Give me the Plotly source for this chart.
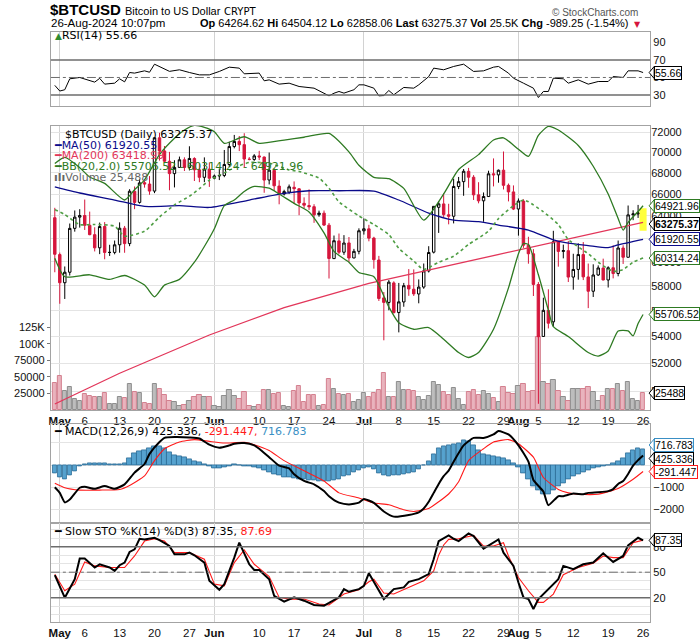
import math
import pandas as pd
import plotly.graph_objects as go

W, H = 700, 639

dates = pd.date_range("2024-04-30", "2024-08-26", freq="D")

# daily candles, one line per month (Apr 30, May, Jun, Jul, Aug 1-26)
opens = [63839,
         60610, 58253, 59122, 62891, 63892, 64038, 63162, 62333, 61191, 63055, 60793, 60794, 61452, 62907, 61554, 66256, 65231, 67067, 66937, 66278, 71443, 70135, 69121, 67928, 68526, 69264, 68512, 69392, 68296, 67577, 68362,
         67489, 67706, 67753, 68805, 70569, 71083, 70759, 69324, 69298, 69644, 69535, 67321, 68243, 66747, 66006, 66189, 66636, 66490, 65147, 64944, 64839, 64112, 64249, 63173, 60266, 61789, 60811, 61612, 60320, 60888,
         62673, 62845, 62034, 60147, 57023, 56659, 58240, 55857, 56699, 58034, 57725, 57340, 57900, 59226, 60815, 64785, 65092, 64104, 63972, 66708, 67165, 68152, 67585, 65927, 65376, 65771, 67911, 67808, 68259, 66819, 66201,
         64625, 65353, 61415, 60677, 58111, 54010, 56030, 55131, 61728, 60882, 60943, 58720, 59356, 60611, 58733, 57560, 58893, 59468, 58481, 59494, 59015, 61169, 60380, 64104, 64176, 64264.62]
highs = [64735,
         60780, 59603, 63320, 64494, 64610, 65494, 64390, 62986, 63404, 63446, 61451, 61818, 63422, 63102, 66454, 66712, 67397, 67400, 67694, 71483, 71946, 70623, 70041, 69220, 69579, 69506, 70597, 69514, 68866, 69500, 69000,
         67839, 68410, 70230, 71047, 71735, 71625, 71907, 69533, 69818, 70146, 69582, 69977, 68449, 67294, 66402, 66894, 67188, 66556, 65695, 66438, 65067, 64476, 64491, 63369, 62258, 62434, 62293, 62126, 61097, 62892,
         63777, 63203, 62148, 60499, 57497, 58473, 58371, 58237, 58239, 59385, 59359, 58526, 59850, 61329, 64900, 65354, 66067, 65104, 67442, 67612, 68372, 68480, 67787, 67112, 66151, 68207, 69400, 68319, 70079, 66987, 66810,
         65593, 65523, 62149, 61077, 58306, 57040, 57717, 62673, 61753, 61464, 61786, 60680, 61572, 61688, 59848, 59785, 59694, 60263, 59618, 61396, 61820, 61408, 64947, 64513, 65000, 64504.12]
lows = [59120,
        56553, 56937, 58848, 62599, 62955, 62746, 62285, 60877, 60648, 60209, 60493, 60632, 60769, 60763, 61330, 64613, 65120, 66600, 65937, 66086, 69191, 68977, 66357, 66622, 68515, 68183, 68233, 67227, 67114, 67119, 66671,
        67387, 67315, 67589, 68564, 70390, 70119, 68507, 69210, 69160, 69232, 66123, 66903, 66309, 65056, 65871, 66018, 65094, 64067, 64693, 64547, 63379, 63929, 63100, 58601, 60239, 60657, 60585, 59985, 60300, 60632,
        62341, 61752, 59419, 56777, 53717, 56038, 55793, 54321, 56317, 57190, 57178, 56590, 57757, 59100, 60705, 62487, 63896, 63246, 63330, 66460, 65842, 66591, 65454, 65146, 63474, 65743, 66718, 67066, 66428, 65323, 64532,
        62248, 61184, 59836, 57175, 49121, 53983, 54621, 54766, 59587, 60287, 58311, 57688, 58506, 58472, 56206, 57097, 58815, 58446, 57864, 58611, 58783, 59815, 60373, 63619, 63822, 62858.06]
closes = [60636,
          58254, 59123, 62889, 63892, 64031, 63162, 62334, 61188, 63049, 60793, 60794, 61448, 62901, 61553, 66267, 65232, 67051, 66940, 66278, 71448, 70136, 69122, 67929, 68526, 69265, 68518, 69394, 68296, 67578, 68364, 67491,
          67706, 67751, 68804, 70567, 71082, 70757, 69342, 69305, 69648, 69540, 67314, 68263, 66773, 66044, 66229, 66677, 66505, 65175, 64974, 64828, 64096, 64253, 63180, 60277, 61804, 60812, 61604, 60320, 60887, 62678,
          62851, 62029, 60173, 56977, 56662, 58303, 55849, 56705, 58009, 57742, 57345, 57899, 59231, 60787, 64870, 65097, 64118, 63974, 66710, 67164, 68154, 67585, 65927, 65372, 65777, 67912, 67813, 68255, 66819, 66201, 64620,
          65357, 61415, 60680, 58116, 53991, 56034, 55027, 61710, 60881, 60945, 58719, 59354, 60610, 58737, 57560, 58894, 59478, 58483, 59493, 59012, 61175, 60382, 64094, 64178, 64264.62, 63275.37]
volume = [41500, 52000, 29000, 35000, 16000, 13500, 24000, 21000, 19000, 19000,
          25000, 9000, 9000, 20000, 18000, 40000, 27000, 26000, 11000, 9000,
          40000, 31000, 23000, 14000, 12000, 6000, 7000, 13000, 20000, 22000,
          20000, 20000, 6000, 5000, 21000, 29500, 21000, 16500, 27000, 6000,
          5000, 8000, 30000, 30000, 24000, 25000, 6000, 5000, 29000, 36000,
          12000, 22000, 22000, 6000, 7000, 47000, 31000, 23500, 22000, 23500,
          11500, 14500, 25500, 19000, 25000, 30000, 56000, 20000, 20000, 43000,
          30000, 30000, 28000, 19000, 15000, 21000, 43000, 38000, 27000, 22000,
          33000, 17000, 7000, 27000, 30000, 22000, 29000, 24000, 18000, 12000,
          34000, 25000, 24000, 36000, 40000, 27000, 28000, 110000, 43000, 40000,
          46000, 28000, 19000, 13000, 32000, 31000, 32000, 35000, 27000, 13000,
          21000, 32000, 32000, 40000, 28000, 42000, 16000, 13000, 25488]
macd_hist = [-380, -560, -620, -470, -280, -80, 40, 60, 70, 60,
             65, 40, 20, 40, 90, 300, 520, 600, 650, 730,
             830, 860, 730, 560, 440, 380, 340, 250, 180, 100,
             40, -80, -130, -150, -90, -40, 20, -10, -60, -80,
             -100, -130, -250, -330, -420, -480, -530, -560, -580, -620,
             -640, -680, -700, -710, -720, -710, -680, -620, -520, -450,
             -330, -240, -140, -100, -200, -380, -480, -490, -480, -470,
             -420, -380, -320, -180, -20, 180, 480, 760, 860, 900,
             940, 980, 1100, 1080, 880, 640, 480, 430, 400, 350,
             300, 230, 60, -120, -350, -650, -950, -1150, -1300, -1300,
             -1150, -950, -800, -620, -520, -400, -320, -220, -150, -100,
             -60, -20, 60, 150, 280, 520, 680, 740, 716.783]

# indicator lines as (day index from Apr 30, value)
ma50 = [(0, 66670), (5, 66100), (12, 65450), (18, 64860), (25, 64930), (31, 64770), (39, 65450), (46, 66070),
        (51, 66310), (57, 66310), (64, 66280), (69, 65450), (75, 64260), (80, 63630), (85, 63480), (89, 63180),
        (95, 62740), (100, 61880), (103, 61590), (107, 61380), (111, 61200), (113, 61440), (118, 61920.55)]
ma200 = [(0, 49110), (13, 51280), (31, 54120), (46, 56250), (63, 58210), (78, 59580), (95, 61200), (118, 63418.99)]
bb_upper = [(0, 68900), (2, 69500), (5, 68500), (7, 67600), (10, 67000), (14, 65450), (16, 66400), (18, 67340),
            (21, 69770), (24, 71390), (26, 72230), (28, 72700), (30, 72500), (32, 72060), (34, 70890), (38, 71550),
            (41, 70890), (46, 71220), (50, 71500), (55, 71880), (59, 70040), (61, 68730), (64, 67580), (67, 67450),
            (70, 66530), (74, 63630), (78, 66010), (81, 68320), (85, 69770), (88, 71220), (90, 71440), (93, 70300),
            (95, 69600), (97, 71690), (99, 72600), (101, 72230), (105, 70680), (108, 68640), (111, 66010),
            (113, 63760), (114, 62740), (115, 63420), (117, 64400), (118, 64921.96)]
bb_mid = [(0, 64570), (2, 64120), (5, 63230), (8, 63230), (12, 63080), (14, 62200), (18, 62640), (21, 63900),
          (24, 65000), (27, 65800), (29, 66500), (31, 67300), (34, 68000), (36, 68500), (39, 69000), (43, 68930),
          (47, 68290), (49, 68130), (53, 67500), (55, 66550), (57, 65290), (61, 64000), (64, 63230), (67, 62340),
          (69, 61150), (72, 60060), (74, 59360), (77, 59960), (80, 60470), (83, 61480), (87, 62640), (89, 63760),
          (92, 64930), (94, 65450), (95, 65290), (98, 64370), (101, 63230), (103, 61910), (107, 60680),
          (109, 59960), (112, 59200), (114, 59350), (116, 59960), (118, 60314.24)]
bb_lower = [(0, 60300), (2, 58750), (7, 58910), (11, 58530), (14, 58850), (18, 58060), (20, 57110), (22, 58060),
            (25, 58530), (28, 59960), (30, 61300), (32, 62850), (34, 64930), (36, 65450), (38, 66240), (40, 66710),
            (43, 66550), (45, 66010), (48, 65140), (51, 64360), (54, 62490), (56, 60880), (59, 59960), (61, 59100),
            (64, 58750), (67, 56300), (69, 55060), (72, 54560), (75, 54690), (78, 53800), (81, 52800), (83, 52430),
            (85, 52800), (88, 54560), (91, 57830), (93, 60680), (94, 61560), (95, 61480), (97, 58910), (99, 56050),
            (100, 54760), (103, 54000), (107, 52800), (109, 52540), (111, 52920), (113, 54430), (115, 54430),
            (116, 54050), (117, 55000), (118, 55706.52)]
rsi = [(0, 41), (1, 34.5), (2, 36), (3, 48.5), (5, 50), (8, 44.7), (9, 49), (10, 42.4), (12, 43.5), (13, 48.5),
       (14, 45), (15, 55.7), (16, 55), (18, 57.6), (19, 56), (20, 65.2), (23, 57), (25, 58.8), (27, 55.7), (29, 53),
       (31, 53), (33, 56.9), (35, 61.8), (37, 60.7), (38, 54.2), (41, 55), (42, 46.2), (43, 47.3), (45, 42.4),
       (47, 43.5), (49, 39.7), (52, 37.8), (55, 29), (56, 32), (57, 34), (58, 32.1), (60, 36), (61, 41.6),
       (62, 41.6), (64, 37.8), (65, 29), (66, 29.4), (67, 35.1), (68, 30.2), (70, 38.6), (72, 37.8), (73, 41.6),
       (75, 51), (76, 60.7), (78, 58.8), (80, 62.6), (82, 65.2), (84, 56.9), (86, 57.6), (88, 61.8), (89, 62.6),
       (91, 55), (92, 49.2), (94, 43.5), (96, 37.8), (97, 27.1), (98, 34), (99, 34), (100, 49.2), (102, 48.5),
       (103, 43.5), (105, 47.3), (107, 42.4), (109, 45.4), (111, 45.4), (112, 51.1), (114, 50), (115, 57.6),
       (117, 57.6), (118, 55.66)]
macd = [(0, -1000), (1, -1250), (2, -1675), (3, -1550), (5, -1020), (6, -975), (8, -1070), (10, -945), (12, -1070),
        (14, -870), (16, -340), (18, 45), (19, 500), (21, 1030), (22, 1215), (24, 1250), (27, 1230), (29, 1185),
        (31, 910), (33, 775), (35, 880), (36, 955), (38, 985), (40, 880), (41, 730), (43, 350), (45, -30),
        (47, -155), (48, -410), (50, -715), (52, -865), (54, -1170), (55, -1400), (57, -1690), (59, -1770),
        (61, -1690), (62, -1525), (64, -1700), (66, -2085), (68, -2315), (71, -2240), (73, -2120), (74, -1950),
        (75, -1650), (76, -1250), (77, -850), (78, -500), (79, -250), (80, 150), (82, 880), (84, 1215), (86, 1215),
        (88, 1370), (89, 1520), (91, 1370), (93, 880), (95, 150), (96, -670), (98, -1190), (99, -1800),
        (101, -1400), (102, -1400), (104, -1280), (106, -1310), (107, -1250), (109, -1220), (111, -1170),
        (112, -1080), (113, -850), (114, -720), (115, -400), (116, -30), (117, 220), (118, 425.336)]
macd_signal = [(0, -820), (2, -1020), (5, -1125), (9, -1125), (13, -1095), (15, -915), (18, -490), (20, 195),
               (22, 730), (25, 1030), (28, 1140), (31, 1060), (34, 985), (38, 1015), (40, 910), (43, 650), (46, 195),
               (50, -260), (54, -715), (57, -1250), (61, -1480), (64, -1705), (67, -1780), (70, -2010), (72, -2085),
               (75, -1950), (77, -1650), (79, -1300), (81, -750), (83, 200), (86, 730), (88, 1030), (91, 1140),
               (93, 955), (96, 350), (98, -560), (101, -1095), (103, -1250), (105, -1310), (109, -1310),
               (113, -1050), (116, -640), (118, -291.447)]
sto_k = [(0, 46.5), (2, 20), (4, 41.8), (5, 66), (6, 66), (8, 55.5), (9, 59.3), (11, 55.5), (12, 51.6), (13, 58.2),
         (14, 61.3), (15, 73.8), (16, 76.9), (17, 89.3), (18, 88.6), (20, 90.5), (21, 87.8), (23, 80.8), (24, 71),
         (26, 71), (27, 73), (28, 69.9), (30, 61.3), (31, 39.9), (33, 29.4), (34, 36), (36, 67.1), (37, 84.7),
         (39, 59.3), (40, 52.7), (41, 52.7), (43, 41.8), (44, 22.3), (46, 15.3), (48, 20.4), (50, 16.5), (52, 11.4),
         (54, 10.7), (55, 13.8), (57, 20.4), (58, 30.1), (59, 27), (61, 30.1), (62, 34), (63, 48.8), (65, 28.2),
         (66, 18.4), (68, 30.1), (70, 32.1), (71, 38.7), (73, 41.8), (75, 47.7), (76, 65.2), (77, 86.6), (79, 93.2),
         (80, 89.3), (81, 86.6), (83, 95.6), (84, 92.5), (86, 77.7), (87, 81.6), (89, 88.6), (90, 73), (92, 57.4),
         (93, 37.9), (94, 20.4), (95, 18.4), (96, 6.8), (97, 18.4), (99, 30.1), (101, 41.8), (102, 57.4),
         (104, 53.5), (106, 59.3), (108, 61.3), (110, 72.2), (112, 62.1), (114, 69.1), (115, 81.6), (117, 90.5),
         (118, 87.35)]
sto_d = [(0, 47.7), (2, 28.2), (4, 36), (6, 62.1), (8, 57.4), (11, 55.5), (14, 55.5), (16, 69.1), (18, 86.6),
         (20, 89.3), (22, 86.6), (24, 73), (27, 73), (30, 65.2), (32, 36), (34, 34), (36, 61.3), (38, 76.1),
         (40, 59.3), (43, 44.9), (45, 20.4), (47, 18.4), (50, 18.4), (53, 12.6), (55, 11.4), (58, 24.3), (61, 29.4),
         (63, 38.7), (64, 41.8), (66, 25.5), (68, 24.3), (71, 32.1), (74, 39.9), (76, 51.6), (77, 70), (78, 82),
         (79, 88.6), (81, 89.3), (84, 93.2), (86, 80.8), (88, 80.8), (90, 84.7), (91, 69.1), (93, 43.8), (95, 28.2),
         (97, 14.5), (98, 14.5), (100, 24.3), (102, 47), (105, 55.5), (108, 60.5), (110, 69.1), (112, 67.1),
         (114, 67.1), (116, 84.7), (118, 87.69)]

tick_dates = ["2024-05-01", "2024-05-06", "2024-05-13", "2024-05-20", "2024-05-27", "2024-06-01", "2024-06-10",
              "2024-06-17", "2024-06-24", "2024-07-01", "2024-07-08", "2024-07-15", "2024-07-22", "2024-07-29",
              "2024-08-01", "2024-08-05", "2024-08-12", "2024-08-19", "2024-08-26"]
tick_text = ["<b>May</b>", "6", "13", "20", "27", "<b>Jun</b>", "10", "17", "24", "<b>Jul</b>", "8", "15", "22",
             "29", "<b>Aug</b>", "5", "12", "19", "26"]
month_starts = ["2024-05-01", "2024-06-01", "2024-07-01", "2024-08-01"]

RED = "#d5163c"
NAVY = "#0a0a8a"
MA200_C = "#e2365a"
BB_C = "#2e7a22"
BB_MID_C = "#4f9e44"
HIST_C = "#56a2cf"
HIST_EDGE = "#2b6c97"
FRAME = "#a3a3a3"
GRID = "#e4e4e4"
MONTH_GRID = "#d2d2d2"
REF = "#6c6c6c"
SANS = "Liberation Sans, Arial"
TICKFONT = dict(family=SANS, size=11, color="#111")
LABFONT = "DejaVu Sans"

# panel boxes in pixels (top, bottom)
RSI_BOX = (32, 106)
MAIN_BOX = (126, 410)
MACD_BOX = (424.3, 523.3)
STO_BOX = (523.3, 621.7)
PLOT_L, PLOT_R = 49, 650

P_LO, P_HI = 48695, 72641
V_HI = 429000
M_LO, M_HI = -2614, 1825
RSI_LO, RSI_HI = 17.4, 102
STO_LO, STO_HI = -8.2, 107.5


def ydom(box):
    return [1 - box[1] / H, 1 - box[0] / H]


def pts(series):
    return [dates[i] for i, _ in series], [v for _, v in series]


def price_px(v):
    lo, hi = math.log10(P_LO), math.log10(P_HI)
    return MAIN_BOX[0] + (hi - math.log10(v)) / (hi - lo) * (MAIN_BOX[1] - MAIN_BOX[0])


def lin_px(v, lo, hi, box):
    return box[0] + (hi - v) / (hi - lo) * (box[1] - box[0])


fig = go.Figure()

# RSI panel
x, y = pts(rsi)
fig.add_trace(go.Scatter(x=x, y=y, mode="lines", line=dict(color="black", width=1), xaxis="x", yaxis="y"))

# volume (base axis of the main panel)
vol_fill = ["#e9b3bd" if c < o else "#bdbdbd" for o, c in zip(opens, closes)]
vol_edge = ["#d4808f" if c < o else "#8e8e8e" for o, c in zip(opens, closes)]
fig.add_trace(go.Bar(x=dates, y=volume, width=0.86 * 86400000, marker=dict(color=vol_fill, line=dict(color=vol_edge, width=1)),
                     xaxis="x2", yaxis="y2"))

# highlight of the latest candle
hx0 = dates[-1] - pd.Timedelta(hours=17)
hx1 = dates[-1] + pd.Timedelta(hours=17)
fig.add_trace(go.Scatter(x=[hx0, hx1, hx1, hx0, hx0], y=[lows[-1] * 0.997, lows[-1] * 0.997, highs[-1] * 1.003, highs[-1] * 1.003, lows[-1] * 0.997],
                         mode="lines", fill="toself", fillcolor="#ffff3c", line=dict(width=0), xaxis="x2", yaxis="y3"))

x, y = pts(ma200)
fig.add_trace(go.Scatter(x=x, y=y, mode="lines", line=dict(color=MA200_C, width=1.3), xaxis="x2", yaxis="y3"))
x, y = pts(ma50)
fig.add_trace(go.Scatter(x=x, y=y, mode="lines", line=dict(color=NAVY, width=1.3, shape="spline", smoothing=0.6), xaxis="x2", yaxis="y3"))
for band in (bb_upper, bb_lower):
    x, y = pts(band)
    fig.add_trace(go.Scatter(x=x, y=y, mode="lines", line=dict(color=BB_C, width=1.3, shape="spline", smoothing=0.6), xaxis="x2", yaxis="y3"))
x, y = pts(bb_mid)
fig.add_trace(go.Scatter(x=x, y=y, mode="lines", line=dict(color=BB_MID_C, width=1.6, dash="dot", shape="spline", smoothing=0.6), xaxis="x2", yaxis="y3"))

fig.add_trace(go.Candlestick(x=dates, open=opens, high=highs, low=lows, close=closes, whiskerwidth=0,
                             increasing=dict(line=dict(color="black", width=1), fillcolor="white"),
                             decreasing=dict(line=dict(color=RED, width=1), fillcolor=RED),
                             xaxis="x2", yaxis="y3"))

# MACD panel
fig.add_trace(go.Bar(x=dates, y=macd_hist, width=0.9 * 86400000, marker=dict(color=HIST_C, line=dict(color=HIST_EDGE, width=0.8)),
                     xaxis="x3", yaxis="y4"))
x, y = pts(macd_signal)
fig.add_trace(go.Scatter(x=x, y=y, mode="lines", line=dict(color="#ff1a1a", width=1.1, shape="spline", smoothing=0.5), xaxis="x3", yaxis="y4"))
x, y = pts(macd)
fig.add_trace(go.Scatter(x=x, y=y, mode="lines", line=dict(color="black", width=2, shape="spline", smoothing=0.5), xaxis="x3", yaxis="y4"))

# Slow stochastics panel
x, y = pts(sto_d)
fig.add_trace(go.Scatter(x=x, y=y, mode="lines", line=dict(color="#ff1a1a", width=1.1), xaxis="x4", yaxis="y5"))
x, y = pts(sto_k)
fig.add_trace(go.Scatter(x=x, y=y, mode="lines", line=dict(color="black", width=2), xaxis="x4", yaxis="y5"))

xr = [dates[0] - pd.Timedelta(hours=19), dates[-1] + pd.Timedelta(hours=34)]
xbase = dict(type="date", domain=[PLOT_L / W, PLOT_R / W], range=xr, showgrid=False, zeroline=False,
             showline=True, mirror=True, linecolor=FRAME, linewidth=1, ticks="", tickvals=tick_dates,
             ticktext=tick_text, tickangle=0, tickfont=dict(family=SANS, size=11.5, color="#111"),
             minor=dict(tickmode="array", tickvals=month_starts, showgrid=True, gridcolor=MONTH_GRID, ticks=""),
             fixedrange=True)
ybase = dict(side="right", showline=True, mirror=True, linecolor=FRAME, linewidth=1, zeroline=False, ticks="",
             tickfont=TICKFONT, fixedrange=True, showgrid=False)

fig.update_layout(
    width=W, height=H, margin=dict(l=0, r=0, t=0, b=0), paper_bgcolor="white", plot_bgcolor="white",
    showlegend=False, bargap=0,
    xaxis=dict(xbase, anchor="y", showticklabels=False),
    xaxis2=dict(xbase, anchor="y2", rangeslider=dict(visible=False)),
    xaxis3=dict(xbase, anchor="y4", showticklabels=False),
    xaxis4=dict(xbase, anchor="y5"),
    yaxis=dict(ybase, domain=ydom(RSI_BOX), range=[RSI_LO, RSI_HI], anchor="x", tickvals=[30, 50, 70, 90]),
    yaxis2=dict(ybase, domain=ydom(MAIN_BOX), range=[0, V_HI], anchor="x2", side="left", ticks="outside",
                ticklen=3, tickcolor="#777", tickvals=[25000, 50000, 75000, 100000, 125000],
                ticktext=["25000", "50000", "75000", "100K", "125K"]),
    yaxis3=dict(ybase, overlaying="y2", anchor="x2", type="log", showline=False,
                range=[math.log10(P_LO), math.log10(P_HI)], tickvals=list(range(50000, 72001, 2000)),
                ticktext=[str(v) for v in range(50000, 72001, 2000)], showgrid=True, gridcolor=GRID),
    yaxis4=dict(ybase, domain=ydom(MACD_BOX), range=[M_LO, M_HI], anchor="x3",
                tickvals=[-2000, -1000, 0, 1000], showgrid=True, gridcolor=GRID),
    yaxis5=dict(ybase, domain=ydom(STO_BOX), range=[STO_LO, STO_HI], anchor="x4", tickvals=[20, 50, 80],
                minor=dict(tickmode="array", tickvals=list(range(0, 101, 10)), showgrid=True, gridcolor=GRID, ticks="")),
)

# reference levels
for yref, lvls in (("y", (30, 70)), ("y5", (20, 80))):
    for lv in lvls:
        fig.add_shape(type="line", xref="x domain", yref=yref, x0=0, x1=1, y0=lv, y1=lv,
                      line=dict(color=REF, width=1.5))
fig.add_shape(type="line", xref="x domain", yref="y", x0=0, x1=1, y0=50, y1=50, line=dict(color=REF, width=1, dash="dashdot"))
fig.add_shape(type="line", xref="x4 domain", yref="y5", x0=0, x1=1, y0=50, y1=50, line=dict(color=REF, width=1, dash="dashdot"))


def note(px_x, px_y, text, size=11, color="black", family=LABFONT, anchor="left"):
    fig.add_annotation(xref="paper", yref="paper", x=px_x / W, y=1 - px_y / H, xanchor=anchor, yanchor="middle",
                       text=text, showarrow=False, font=dict(family=family, size=size, color=color))


def tag(px_y, text, color, bold=False):
    fig.add_shape(type="path", xref="paper", yref="paper",
                  path=f"M {654 / W},{1 - (px_y - 6) / H} L {649 / W},{1 - px_y / H} L {654 / W},{1 - (px_y + 6) / H} Z",
                  line=dict(color=color, width=1), fillcolor="white", layer="above")
    fig.add_annotation(xref="paper", yref="paper", x=653.5 / W, y=1 - px_y / H, xanchor="left", yanchor="middle",
                       text=f"<b>{text}</b>" if bold else text, showarrow=False, bgcolor="white",
                       bordercolor=color, borderwidth=1, borderpad=0,
                       font=dict(family=SANS, size=10.5, color="black"))


# header
note(46, 9.5, "<b>$BTCUSD</b>", size=15, family=SANS)
note(121, 11, "Bitcoin to US Dollar", size=11, family=SANS)
note(221, 11.5, "CRYPT", size=10)
note(640, 12, "© StockCharts.com", size=10, color="#555", family=SANS, anchor="right")
note(47, 23.5, "26-Aug-2024 10:07pm", size=11.5, family=SANS)
note(631, 23.5, "<b>Op</b> 64264.62 <b>Hi</b> 64504.12 <b>Lo</b> 62858.06 <b>Last</b> 63275.37 "
                "<b>Vol</b> 25.5K <b>Chg</b> -989.25 (-1.54%)", size=11, family=SANS, anchor="right")
note(632, 24.5, "▼", size=8, color=RED, family="DejaVu Sans")

# panel captions
note(51, 35.5, "<span style='color:#2e8b2e;font-size:9px'>▲</span>RSI(14) 55.66")
note(61, 135, "$BTCUSD (Daily) 63275.37")
note(50, 145.5, "<b>━</b>MA(50) 61920.55", color=NAVY)
note(50, 156, "<b>━</b>MA(200) 63418.99", color=MA200_C)
note(50, 166.5, "<b>━</b>BB(20,2.0) 55706.52 - 60314.24 - 64921.96", color=BB_C)
note(50, 177, "<b>ılı</b>Volume 25,488", color="#666")
note(50, 431, "<b>━</b> MACD(12,26,9) 425.336, <span style='color:#ff1a1a'>-291.447,</span> "
              "<span style='color:#3a8fc4'>716.783</span>")
note(50, 531, "<b>━</b> Slow STO %K(14) %D(3) 87.35, <span style='color:#ff1a1a'>87.69</span>")

# last-value tags on the right
tag(lin_px(55.66, RSI_LO, RSI_HI, RSI_BOX), "55.66", "black")
tag(price_px(64921.96), "64921.96", BB_C)
tag(price_px(61920.55), "61920.55", NAVY)
tag(price_px(60314.24), "60314.24", BB_C)
tag(price_px(55706.52), "55706.52", BB_C)
tag(price_px(63275.37), "63275.37", "black", bold=True)
tag(lin_px(25488, 0, V_HI, MAIN_BOX), "25488", "black")
tag(445, "716.783", "#3a8fc4")
tag(458.5, "425.336", "black")
tag(lin_px(-291.447, M_LO, M_HI, MACD_BOX), "-291.447", "#ff1a1a")
tag(lin_px(87.35, STO_LO, STO_HI, STO_BOX), "87.35", "black")

# the page's default body margin (and the scrollbars it causes) would shift the 700x639 figure
fig.write_html("out.html", config={"displayModeBar": False},
               post_script="document.body.style.margin='0px';"
                           "document.body.style.overflow='hidden';"
                           "document.documentElement.style.overflow='hidden';")
